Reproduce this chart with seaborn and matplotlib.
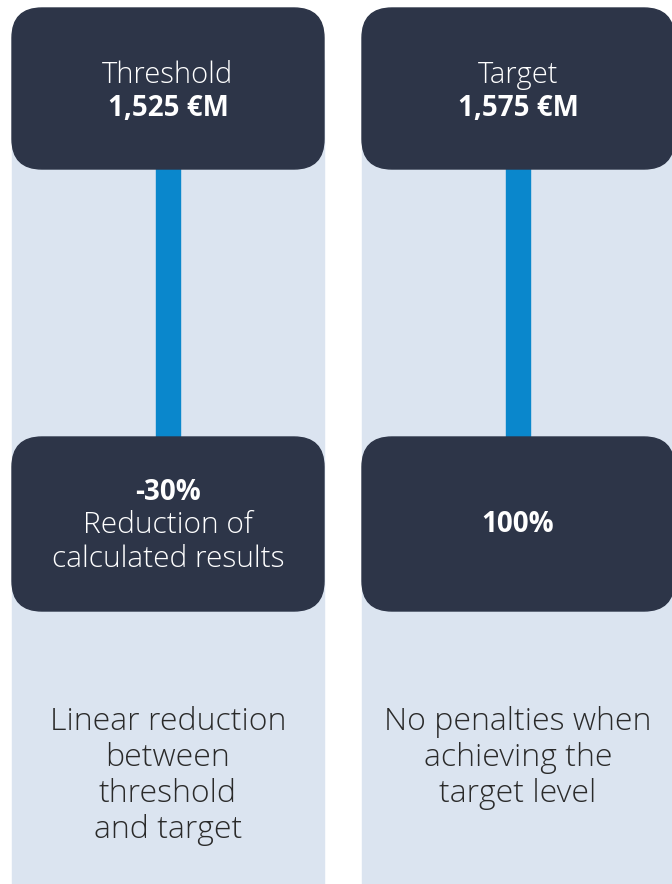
import matplotlib.pyplot as plt
import seaborn as sns
from matplotlib.patches import FancyBboxPatch, Rectangle

# contenu du schéma
labels = ["Threshold", "Target"]
amounts = ["1,525 €M", "1,575 €M"]
outcome_bold = ["-30%", "100%"]
outcome_text = ["Reduction of\ncalculated results", ""]
notes = ["Linear reduction\nbetween\nthreshold\nand target",
         "No penalties when\nachieving the\ntarget level"]

navy = "#2d3548"
panel = "#dbe4f0"
blue = "#0a87cc"

sns.set_theme(style="white")
plt.rcParams['font.family'] = ['Open Sans', 'DejaVu Sans']

fig = plt.figure(figsize=(6.72, 8.84), dpi=100)
ax = fig.add_axes([0, 0, 1, 1])
ax.set_xlim(0, 672)
ax.set_ylim(884, 0)
ax.axis("off")

lefts = [12, 362]
width = 312
for i in range(len(labels)):
    x0 = lefts[i]
    cx = x0 + width / 2
    ax.add_patch(Rectangle((x0, 60), width, 824, color=panel, zorder=0))
    ax.add_patch(Rectangle((cx - 12, 150), 24, 300, color=blue, zorder=1))
    for y0, h in [(8, 161), (437, 174)]:
        ax.add_patch(FancyBboxPatch((x0 + 30, y0 + 30), width - 60, h - 60,
                                    boxstyle="round,pad=30", color=navy, zorder=2,
                                    mutation_aspect=1))
    ax.text(cx, 75, labels[i], color="white", fontsize=21, weight="light",
            ha="center", va="center", zorder=3)
    ax.text(cx, 109, amounts[i], color="white", fontsize=20, weight="bold",
            ha="center", va="center", zorder=3)
    if outcome_text[i]:
        ax.text(cx, 492, outcome_bold[i], color="white", fontsize=20, weight="bold",
                ha="center", va="center", zorder=3)
        ax.text(cx, 542, outcome_text[i], color="white", fontsize=21.5, weight="light",
                ha="center", va="center", linespacing=1.18, zorder=3)
    else:
        ax.text(cx, 524, outcome_bold[i], color="white", fontsize=20, weight="bold",
                ha="center", va="center", zorder=3)
    ax.text(cx, 706, notes[i], color="#2a2a2a", fontsize=23, weight="light",
            ha="center", va="top", linespacing=1.17, zorder=3)

fig.savefig("out.png", dpi=100)
